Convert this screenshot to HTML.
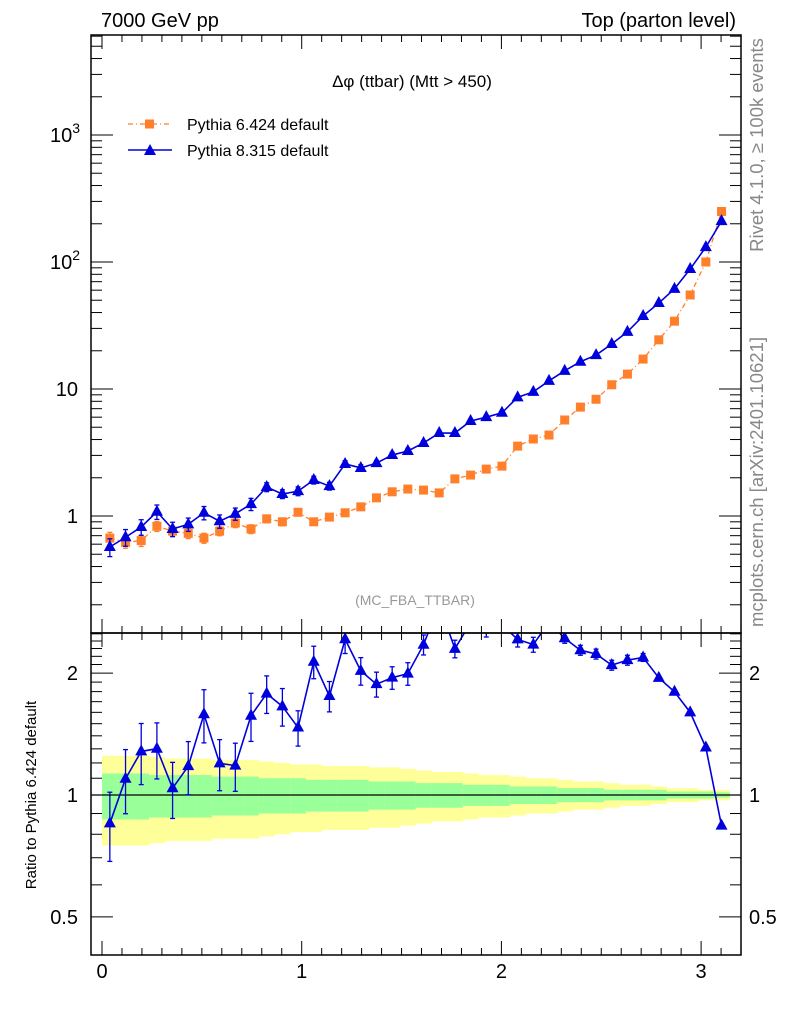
<!DOCTYPE html>
<html><head><meta charset="utf-8"><style>
body{margin:0;background:#fff}
svg{display:block;font-family:"Liberation Sans",sans-serif}
</style></head><body>
<svg id="c" width="786" height="1024" viewBox="0 0 786 1024">
<defs>
<clipPath id="mainClip"><rect x="91" y="35" width="650" height="598"/></clipPath>
<clipPath id="ratioClip"><rect x="91" y="633" width="650" height="322"/></clipPath>
</defs>
<g id="bands" clip-path="url(#ratioClip)"></g>
<g id="main" clip-path="url(#mainClip)"></g>
<g id="ratio" clip-path="url(#ratioClip)"></g>
<g id="axes"></g>
<text x="101" y="27" font-size="20">7000 GeV pp</text>
<text x="736" y="27" font-size="20" text-anchor="end">Top (parton level)</text>
<text x="412" y="87" font-size="17" text-anchor="middle">Δφ (ttbar) (Mtt &gt; 450)</text>
<text x="415" y="605" font-size="14" fill="#999" text-anchor="middle">(MC_FBA_TTBAR)</text>
<g>
<line x1="128" y1="124" x2="172" y2="124" stroke="#ff7f2a" stroke-width="1.3" stroke-dasharray="5,3,1,3"/>
<rect x="145" y="119.5" width="9" height="9" fill="#ff7f2a"/>
<text x="187" y="130" font-size="16">Pythia 6.424 default</text>
<line x1="128" y1="150" x2="172" y2="150" stroke="#0000dd" stroke-width="1.5"/>
<polygon points="150,144 156,155 144,155" fill="#0000dd"/>
<text x="187" y="156" font-size="16">Pythia 8.315 default</text>
</g>
<text transform="translate(763,145) rotate(-90)" font-size="18.5" fill="#888" text-anchor="middle">Rivet 4.1.0, ≥ 100k events</text>
<text transform="translate(763,482) rotate(-90)" font-size="18.5" fill="#888" text-anchor="middle">mcplots.cern.ch [arXiv:2401.10621]</text>
<text transform="translate(36,795) rotate(-90)" font-size="15" text-anchor="middle">Ratio to Pythia 6.424 default</text>
</svg>
<script>
const pythia6 = [0.67,0.62,0.64,0.83,0.76,0.73,0.67,0.76,0.88,0.79,0.95,0.9,1.07,0.9,0.98,1.06,1.18,1.39,1.55,1.63,1.6,1.52,1.96,2.1,2.34,2.47,3.55,4.04,4.34,5.7,7.2,8.3,10.8,13.1,17.2,24.4,34.2,55,100,250];
const pythia8 = [0.57,0.68,0.82,1.08,0.79,0.86,1.06,0.91,1.04,1.24,1.69,1.49,1.57,1.92,1.72,2.57,2.39,2.61,3.02,3.25,3.76,4.5,4.5,5.6,6.0,6.5,8.6,9.5,11.6,13.9,16.4,18.5,22.6,28.2,37.6,47.5,61.5,88,131,210];
const err6 = [0.11,0.1,0.1,0.09,0.09,0.09,0.09,0.08,0.08,0.08,0.07,0.07,0.06,0.06,0.05,0.05,0.05,0.05,0.04,0.04,0.04,0.04,0.03,0.03,0.03,0.03,0.03,0.03,0.02,0.02,0.02,0.02,0.02,0.02,0.01,0.01,0.01,0.01,0.01,0.01];
const err8 = [0.16,0.15,0.14,0.13,0.13,0.12,0.12,0.12,0.11,0.11,0.08,0.08,0.08,0.07,0.07,0.06,0.06,0.05,0.05,0.05,0.04,0.04,0.04,0.03,0.03,0.03,0.03,0.03,0.02,0.02,0.02,0.02,0.02,0.02,0.02,0.01,0.01,0.01,0.01,0.01];
const yellowBand = [0.25,0.25,0.25,0.24,0.23,0.23,0.23,0.22,0.22,0.22,0.21,0.2,0.19,0.19,0.18,0.18,0.18,0.17,0.17,0.16,0.15,0.14,0.14,0.13,0.12,0.12,0.11,0.1,0.1,0.09,0.08,0.08,0.07,0.06,0.06,0.05,0.04,0.04,0.03,0.03];
const greenBand = [0.13,0.13,0.13,0.12,0.12,0.12,0.12,0.11,0.11,0.11,0.1,0.1,0.1,0.09,0.09,0.09,0.09,0.08,0.08,0.08,0.07,0.07,0.07,0.06,0.06,0.06,0.05,0.05,0.05,0.04,0.04,0.04,0.03,0.03,0.03,0.03,0.02,0.02,0.02,0.015];
const yTickLabels = ["1","10","10²","10³"];
const xTickLabels = ["0","1","2","3"];
const ratioTickLabels = ["0.5","1","2"];

const NS="http://www.w3.org/2000/svg";
const nb=pythia6.length, binW=Math.PI/nb;
const X=v=>102+199.7*v;
const Y=v=>516-127*Math.log10(v);
const R=v=>795-405*Math.log10(v);
function mk(tag,attrs,parent){const e=document.createElementNS(NS,tag);for(const k in attrs)e.setAttribute(k,attrs[k]);parent.appendChild(e);return e;}
const main=document.getElementById('main'),ratio=document.getElementById('ratio'),bands=document.getElementById('bands'),axes=document.getElementById('axes');

for(let i=0;i<nb;i++){
  const x0=X(i*binW),x1=X((i+1)*binW);
  const y=mk('rect',{x:x0,y:R(1+yellowBand[i]),width:x1-x0+0.5,height:R(1-yellowBand[i])-R(1+yellowBand[i]),fill:'#ffff99'},bands);
  
  
  const g=mk('rect',{x:x0,y:R(1+greenBand[i]),width:x1-x0+0.5,height:R(1-greenBand[i])-R(1+greenBand[i]),fill:'#99ff99'},bands);
  
  
}
mk('line',{x1:91,x2:741,y1:R(1),y2:R(1),stroke:'#000','stroke-width':1.2},bands);

function series(parent,vals,errs,color,marker,dash,scale){
  const pts=vals.map((v,i)=>[X((i+0.5)*binW),scale(v)]);
  const pl=mk('polyline',{points:pts.map(p=>p.join(',')).join(' '),fill:'none',stroke:color,'stroke-width':marker==='tri'?1.6:1.3},parent);
  if(dash)pl.setAttribute('stroke-dasharray',dash);
  
  
  vals.forEach((v,i)=>{
    const [x,y]=pts[i];
    if(errs[i]>0.015){
      const yt=scale(v*(1+errs[i])),yb=scale(v*(1-errs[i]));
      mk('line',{x1:x,x2:x,y1:yt,y2:yb,stroke:color,'stroke-width':1.3},parent);
      mk('line',{x1:x-2.5,x2:x+2.5,y1:yt,y2:yt,stroke:color,'stroke-width':1.3},parent);
      mk('line',{x1:x-2.5,x2:x+2.5,y1:yb,y2:yb,stroke:color,'stroke-width':1.3},parent);
    }
    let m;
    if(marker==='tri') m=mk('polygon',{points:`${x},${y-7} ${x+6},${y+4} ${x-6},${y+4}`,fill:color},parent);
    else m=mk('rect',{x:x-4.5,y:y-4.5,width:9,height:9,fill:color},parent);
    
    
  });
}
series(main,pythia6,err6,'#ff7f2a','sq','5,3,1,3',Y);
series(main,pythia8,err8,'#0000dd','tri',null,Y);
const ratioVals=pythia8.map((v,i)=>v/pythia6[i]);
const ratioErr=err8.map((e,i)=>Math.sqrt(e*e+err6[i]*err6[i]));
series(ratio,ratioVals,ratioErr,'#0000dd','tri',null,R);

mk('rect',{x:91,y:35,width:650,height:598,fill:'none',stroke:'#000','stroke-width':1.5},axes);
mk('rect',{x:91,y:633,width:650,height:322,fill:'none',stroke:'#000','stroke-width':1.5},axes);
for(let k=0;k<=32;k++){
  const v=k/10,x=X(v),major=k%10===0,L=major?14:7;
  [[35,1],[633,-1],[633,1],[955,-1]].forEach(([y0,d])=>mk('line',{x1:x,x2:x,y1:y0,y2:y0+d*L,stroke:'#000','stroke-width':1},axes));
}
xTickLabels.forEach((t,i)=>{const e=mk('text',{x:X(i),y:978,'font-size':20,'text-anchor':'middle'},axes);e.textContent=t;

});
for(let d=-1;d<=3;d++){for(let m=1;m<=9;m++){const v=m*Math.pow(10,d),y=Y(v);if(y<35||y>633)continue;const L=m===1?22:11;
mk('line',{x1:91,x2:91+L,y1:y,y2:y,stroke:'#000'},axes);mk('line',{x1:741,x2:741-L,y1:y,y2:y,stroke:'#000'},axes);}}
yTickLabels.forEach((t,i)=>{const e=mk('text',{x:i<2?78:80,y:Y(Math.pow(10,i))+7,'font-size':20,'text-anchor':'end'},axes);
if(i>=2){e.innerHTML='10<tspan dy="-9" font-size="14">'+(i)+'</tspan>';}else e.textContent=t;

});
for(let v=0.4;v<=2.5;v=+(v+0.1).toFixed(1)){const y=R(v);if(y<633||y>955)continue;const major=[0.5,1,2].includes(v),L=major?22:11;
mk('line',{x1:91,x2:91+L,y1:y,y2:y,stroke:'#000'},axes);mk('line',{x1:741,x2:741-L,y1:y,y2:y,stroke:'#000'},axes);}
ratioTickLabels.forEach(t=>{const v=parseFloat(t);
const a=mk('text',{x:78,y:R(v)+7,'font-size':20,'text-anchor':'end'},axes);a.textContent=t;


const b=mk('text',{x:749,y:R(v)+7,'font-size':20},axes);b.textContent=t;

});
</script>
</body></html>
